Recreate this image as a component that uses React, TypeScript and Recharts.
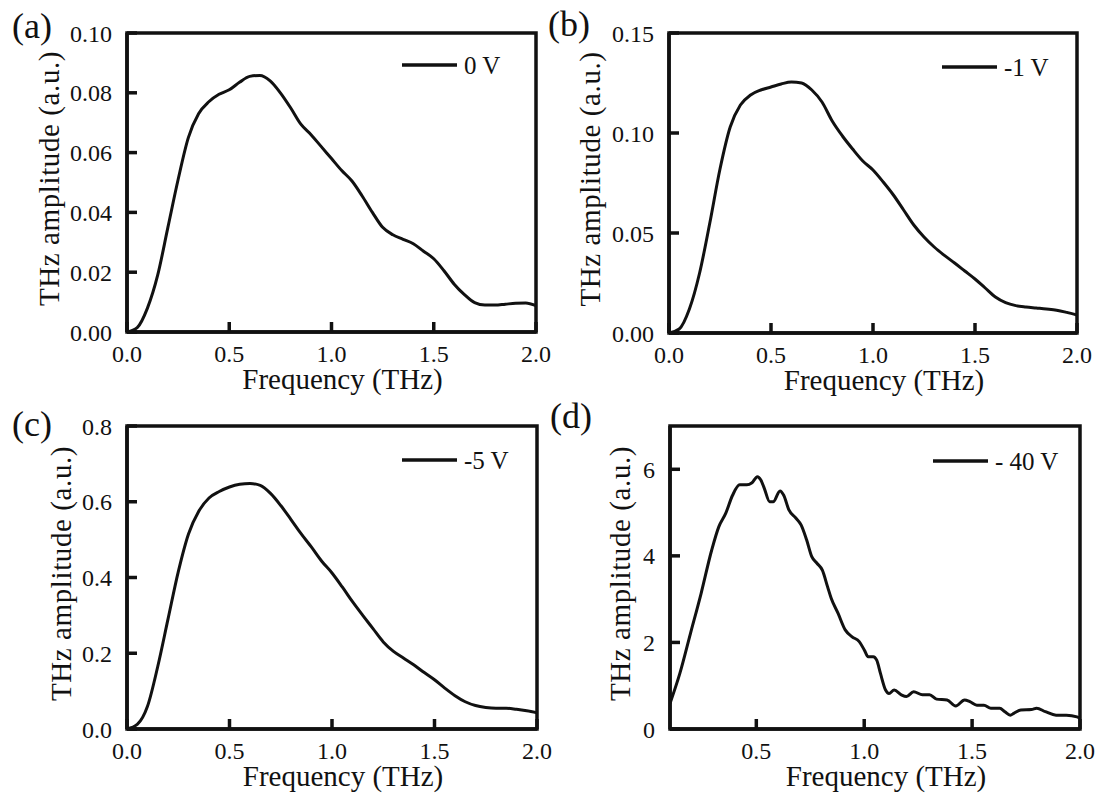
import React from 'react';
import { LineChart, Line, XAxis, YAxis, ReferenceArea, Legend, Label } from 'recharts';

const FONT = "'Liberation Serif', 'DejaVu Serif', 'Times New Roman', serif";
const INK = '#111';

// frequency grid (THz) shared by the smooth spectra (a)-(c)
const freqSmooth = [
  0, 0.05, 0.1, 0.15, 0.2, 0.25, 0.3, 0.35, 0.4, 0.45, 0.5, 0.55, 0.6, 0.65, 0.7, 0.75, 0.8,
  0.85, 0.9, 0.95, 1.0, 1.05, 1.1, 1.15, 1.2, 1.25, 1.3, 1.35, 1.4, 1.45, 1.5, 1.55, 1.6,
  1.65, 1.7, 1.75, 1.8, 1.85, 1.9, 1.95, 2.0,
];

// (a) 0 V
const ampA = [
  0, 0.0015, 0.008, 0.019, 0.035, 0.051, 0.065, 0.073, 0.077, 0.0795, 0.081, 0.0835, 0.0855,
  0.0858, 0.084, 0.08, 0.075, 0.0695, 0.066, 0.062, 0.058, 0.054, 0.0505, 0.0455, 0.04, 0.035,
  0.0325, 0.031, 0.0295, 0.027, 0.0245, 0.0205, 0.016, 0.0125, 0.0098, 0.009, 0.009, 0.0093,
  0.0096, 0.0097, 0.0088,
];

// (b) -1 V
const ampB = [
  0, 0.002, 0.012, 0.03, 0.055, 0.082, 0.103, 0.114, 0.119, 0.1215, 0.123, 0.1245, 0.1255,
  0.125, 0.1215, 0.1155, 0.106, 0.0985, 0.092, 0.086, 0.0815, 0.0755, 0.069, 0.0615, 0.054,
  0.048, 0.043, 0.0388, 0.035, 0.031, 0.027, 0.0225, 0.018, 0.0152, 0.0137, 0.013, 0.0125,
  0.012, 0.0114, 0.0103, 0.009,
];

// (c) -5 V
const ampC = [
  0, 0.012, 0.06, 0.165, 0.29, 0.415, 0.515, 0.575, 0.61, 0.627, 0.639, 0.646, 0.648, 0.643,
  0.622, 0.59, 0.553, 0.515, 0.48, 0.443, 0.412, 0.375, 0.336, 0.3, 0.265, 0.23, 0.205, 0.187,
  0.169, 0.149, 0.13, 0.108, 0.088, 0.072, 0.062, 0.057, 0.055, 0.055, 0.052, 0.048, 0.043,
];

// (d) -40 V, noisy trace read point by point
const freqD = [
  0.1, 0.146, 0.195, 0.244, 0.293, 0.326, 0.358, 0.39, 0.423, 0.456, 0.48, 0.505, 0.521, 0.537,
  0.562, 0.578, 0.61, 0.627, 0.651, 0.684, 0.708, 0.733, 0.757, 0.781, 0.806, 0.83, 0.847,
  0.879, 0.912, 0.944, 0.977, 1.001, 1.018, 1.042, 1.058, 1.075, 1.099, 1.115, 1.139, 1.172,
  1.196, 1.229, 1.27, 1.303, 1.335, 1.384, 1.424, 1.465, 1.49, 1.522, 1.555, 1.587, 1.628,
  1.652, 1.677, 1.693, 1.726, 1.775, 1.799, 1.84, 1.889, 1.937, 1.986, 2.0,
];
const ampD = [
  0.59, 1.29, 2.21, 3.13, 4.13, 4.67, 4.98, 5.4, 5.64, 5.64, 5.69, 5.83, 5.75, 5.56, 5.25,
  5.25, 5.5, 5.4, 5.06, 4.87, 4.71, 4.37, 3.98, 3.83, 3.67, 3.29, 3.02, 2.67, 2.29, 2.13, 2.02,
  1.82, 1.67, 1.67, 1.59, 1.29, 0.9, 0.82, 0.9, 0.79, 0.75, 0.86, 0.79, 0.79, 0.69, 0.67, 0.53,
  0.67, 0.63, 0.55, 0.55, 0.48, 0.48, 0.4, 0.32, 0.36, 0.44, 0.45, 0.48, 0.4, 0.32, 0.32, 0.28,
  0.25,
];

const xTicks = [0, 0.5, 1, 1.5, 2];
const xTicksD = [0.5, 1, 1.5, 2];
const yTicksA = [0, 0.02, 0.04, 0.06, 0.08, 0.1];
const yTicksB = [0, 0.05, 0.1, 0.15];
const yTicksC = [0, 0.2, 0.4, 0.6, 0.8];
const yTicksD = [0, 2, 4, 6];

// layout in page pixels
const panels = [
  {
    tag: '(a)', name: '0 V', freq: freqSmooth, amp: ampA,
    xDomain: [0, 2], xTicks, yDomain: [0, 0.1], yTicks: yTicksA, yDigits: 2,
    box: { left: 0, top: 0, width: 560, height: 400 },
    plot: { x0: 127, x1: 536, y0: 33, y1: 332 },
    yTitleGap: 68, legend: { x: 402, y: 65 }, tagPos: { x: 12, y: 38 },
  },
  {
    tag: '(b)', name: '-1 V', freq: freqSmooth, amp: ampB,
    xDomain: [0, 2], xTicks, yDomain: [0, 0.15], yTicks: yTicksB, yDigits: 2,
    box: { left: 540, top: 0, width: 561, height: 400 },
    plot: { x0: 669, x1: 1077, y0: 33, y1: 333 },
    yTitleGap: 69, legend: { x: 942, y: 67 }, tagPos: { x: 548, y: 36 },
  },
  {
    tag: '(c)', name: '-5 V', freq: freqSmooth, amp: ampC,
    xDomain: [0, 2], xTicks, yDomain: [0, 0.8], yTicks: yTicksC, yDigits: 1,
    box: { left: 0, top: 390, width: 560, height: 408 },
    plot: { x0: 127, x1: 537, y0: 426, y1: 729 },
    yTitleGap: 56, legend: { x: 402, y: 460 }, tagPos: { x: 12, y: 436 },
  },
  {
    tag: '(d)', name: '- 40 V', freq: freqD, amp: ampD,
    xDomain: [0.1, 2], xTicks: xTicksD, yDomain: [0, 7], yTicks: yTicksD, yDigits: 0,
    box: { left: 540, top: 390, width: 561, height: 408 },
    plot: { x0: 670, x1: 1080, y0: 426, y1: 729 },
    yTitleGap: 40, legend: { x: 933, y: 461 }, tagPos: { x: 550, y: 428 },
  },
];

const Y_W = 90;
const X_H = 60;

const LegendKey = ({ payload }: any) => {
  const item = payload?.[0];
  if (!item) return null;
  return (
    <svg width={140} height={30} style={{ display: 'block', overflow: 'visible' }}>
      <line x1={0} y1={15} x2={55} y2={15} stroke={INK} strokeWidth={3.5} />
      <text x={62} y={23.5} style={{ fontFamily: FONT, fontSize: 25 }} fill={INK}>
        {item.value}
      </text>
    </svg>
  );
};

function Panel({ p }: { p: (typeof panels)[number] }) {
  const { box, plot } = p;
  const margin = {
    top: plot.y0 - box.top,
    left: plot.x0 - box.left - Y_W,
    right: box.left + box.width - plot.x1,
    bottom: box.top + box.height - plot.y1 - X_H,
  };
  const data = p.freq.map((f, i) => ({ f, amp: p.amp[i] }));
  const tickStyle = { fill: INK, fontSize: 24, style: { fontFamily: FONT } };
  const axisStroke = { stroke: INK, strokeWidth: 3.5 };

  const plotLeft = plot.x0 - box.left;
  const plotMidY = (plot.y0 + plot.y1) / 2 - box.top - 4;
  const plotMidX = (plot.x0 + plot.x1) / 2 - box.left + 11;
  const plotBottom = plot.y1 - box.top;
  const titleStyle = { fontFamily: FONT, fontSize: 29 };

  return (
    <div style={{ position: 'absolute', left: box.left, top: box.top }}>
      <LineChart
        width={box.width}
        height={box.height}
        data={data}
        margin={margin}
        style={{ fontFamily: FONT }}
      >
        <XAxis
          dataKey="f"
          type="number"
          domain={p.xDomain}
          ticks={p.xTicks}
          interval={0}
          allowDataOverflow
          tickFormatter={(v: number) => v.toFixed(1)}
          tick={tickStyle}
          tickSize={-10}
          tickMargin={23}
          tickLine={axisStroke}
          axisLine={axisStroke}
          height={X_H}
        >
          <Label
            content={() => (
              <text x={plotMidX} y={plotBottom + 57} textAnchor="middle" style={titleStyle} fill={INK}>
                Frequency (THz)
              </text>
            )}
          />
        </XAxis>
        <YAxis
          type="number"
          domain={p.yDomain}
          ticks={p.yTicks}
          interval={0}
          allowDataOverflow
          tickFormatter={(v: number) => v.toFixed(p.yDigits)}
          tick={tickStyle}
          tickSize={-10}
          tickMargin={25}
          tickLine={axisStroke}
          axisLine={axisStroke}
          width={Y_W}
        >
          <Label
            content={() => (
              <g>
                <text
                  x={plotLeft - p.yTitleGap}
                  y={plotMidY}
                  transform={`rotate(-90, ${plotLeft - p.yTitleGap}, ${plotMidY})`}
                  textAnchor="middle"
                  fill={INK}
                  style={{ ...titleStyle, letterSpacing: '0.6px' }}
                >
                  THz amplitude (a.u.)
                </text>
                <text
                  x={p.tagPos.x - box.left}
                  y={p.tagPos.y - box.top}
                  fill={INK}
                  style={{ fontFamily: FONT, fontSize: 36 }}
                >
                  {p.tag}
                </text>
              </g>
            )}
          />
        </YAxis>
        <ReferenceArea
          x1={p.xDomain[0]}
          x2={p.xDomain[1]}
          y1={p.yDomain[0]}
          y2={p.yDomain[1]}
          fill="none"
          fillOpacity={0}
          stroke={INK}
          strokeWidth={3.5}
          strokeOpacity={1}
        />
        <Legend
          layout="vertical"
          verticalAlign="middle"
          align="center"
          wrapperStyle={{
            left: p.legend.x - box.left,
            top: p.legend.y - box.top - 15,
            width: 140,
            height: 30,
          }}
          content={<LegendKey />}
        />
        <Line
          type="monotone"
          dataKey="amp"
          name={p.name}
          stroke={INK}
          strokeWidth={3}
          dot={false}
          activeDot={false}
          isAnimationActive={false}
        />
      </LineChart>
    </div>
  );
}

export default function App() {
  return (
    <div
      style={{
        position: 'absolute',
        left: 0,
        top: 0,
        width: 1101,
        height: 798,
        background: '#fff',
        fontFamily: FONT,
      }}
    >
      {panels.map((p) => (
        <Panel key={p.tag} p={p} />
      ))}
    </div>
  );
}
